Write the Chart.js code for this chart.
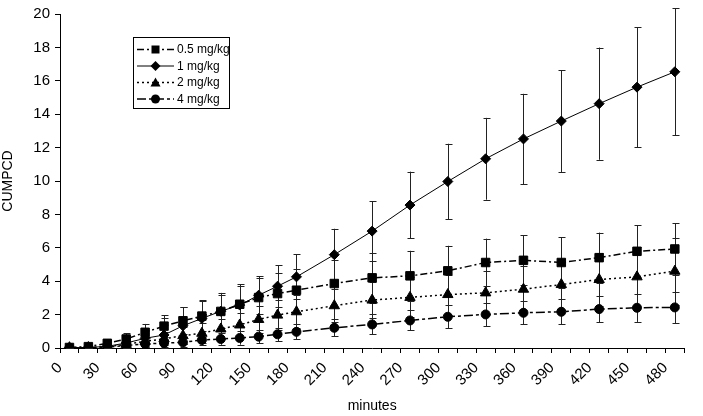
<!DOCTYPE html>
<html>
<head>
<meta charset="utf-8">
<script src="https://cdn.jsdelivr.net/npm/chart.js@4"></script>
<style>
  html, body { margin: 0; padding: 0; background: #fff; }
</style>
</head>
<body>
<canvas id="grafico" width="703" height="416"></canvas>
<script>
// Tempos (minutos) - pontos médios dos intervalos
const minutos = [7.5, 22.5, 37.5, 52.5, 67.5, 82.5, 97.5, 112.5, 127.5, 142.5, 157.5, 172.5, 187.5,
                 217.5, 247.5, 277.5, 307.5, 337.5, 367.5, 397.5, 427.5, 457.5, 487.5];

// CUMPCD por dose
const dose05 = [0.03, 0.08, 0.28, 0.54, 0.94, 1.31, 1.63, 1.91, 2.19, 2.62, 3.02, 3.26, 3.46,
                3.86, 4.20, 4.32, 4.62, 5.12, 5.25, 5.12, 5.41, 5.79, 5.93];
const dose1 = [0.02, 0.03, 0.10, 0.30, 0.58, 0.78, 1.33, 1.77, 2.20, 2.57, 3.16, 3.70, 4.26,
               5.59, 7.00, 8.56, 9.97, 11.33, 12.52, 13.59, 14.63, 15.62, 16.54];
const dose2 = [0.02, 0.03, 0.08, 0.22, 0.40, 0.55, 0.74, 0.88, 1.14, 1.38, 1.71, 1.97, 2.17,
               2.53, 2.87, 3.03, 3.20, 3.30, 3.52, 3.80, 4.10, 4.26, 4.60];
const dose4 = [0.01, 0.02, 0.05, 0.16, 0.24, 0.30, 0.34, 0.48, 0.54, 0.60, 0.68, 0.82, 0.97,
               1.21, 1.41, 1.65, 1.87, 2.01, 2.11, 2.17, 2.33, 2.41, 2.43];

// Desvios (barras de erro)
const erro05 = [0.05, 0.08, 0.20, 0.35, 0.50, 0.65, 0.80, 0.90, 1.00, 1.10, 1.20, 1.25, 1.30,
                1.40, 1.50, 1.50, 1.50, 1.43, 1.50, 1.50, 1.50, 1.55, 1.55];
const erro1 = [0.03, 0.05, 0.10, 0.30, 0.50, 1.00, 1.10, 1.10, 1.10, 1.25, 1.14, 1.26, 1.35,
               1.55, 1.80, 2.00, 2.26, 2.45, 2.70, 3.05, 3.36, 3.60, 3.80];
const erro2 = [0.03, 0.05, 0.10, 0.20, 0.30, 0.40, 0.50, 0.60, 0.60, 0.70, 0.80, 0.90, 1.00,
               1.00, 1.10, 1.20, 1.20, 1.30, 1.40, 1.50, 1.60, 1.80, 2.00];
const erro4 = [0.02, 0.03, 0.05, 0.10, 0.20, 0.25, 0.30, 0.30, 0.35, 0.40, 0.40, 0.40, 0.45,
               0.50, 0.60, 0.60, 0.70, 0.70, 0.70, 0.75, 0.80, 0.85, 0.95];

const rotulos = ['0.5 mg/kg', '1 mg/kg', '2 mg/kg', '4 mg/kg'];

Chart.defaults.font.family = "'Liberation Sans', Arial, sans-serif";
Chart.defaults.color = '#000';

function pares(valores) {
    return minutos.map((m, i) => ({ x: m, y: valores[i] }));
}

function serie(rotulo, valores, erros, estilo, raio, traco, largura) {
    return {
        label: rotulo,
        data: pares(valores),
        erros: erros,
        borderColor: '#000',
        backgroundColor: '#000',
        borderWidth: largura,
        borderDash: traco,
        pointStyle: estilo,
        pointRadius: raio,
        pointHoverRadius: raio,
        pointBackgroundColor: '#000',
        pointBorderColor: '#000',
        pointBorderWidth: 1,
        tension: 0,
        fill: false
    };
}

// Desenha as barras de erro
const barrasErro = {
    id: 'barrasErro',
    beforeDatasetsDraw(chart) {
        const ctx = chart.ctx;
        const sx = chart.scales.x, sy = chart.scales.y;
        ctx.save();
        ctx.strokeStyle = '#222';
        ctx.lineWidth = 1;
        chart.data.datasets.forEach(ds => {
            ds.data.forEach((p, i) => {
                const e = ds.erros[i];
                const px = Math.round(sx.getPixelForValue(p.x)) + 0.5;
                const topo = sy.getPixelForValue(p.y + e);
                const base = sy.getPixelForValue(Math.max(0, p.y - e));
                ctx.beginPath();
                ctx.moveTo(px, topo);
                ctx.lineTo(px, base);
                ctx.moveTo(px - 3, Math.round(topo) + 0.5);
                ctx.lineTo(px + 4, Math.round(topo) + 0.5);
                ctx.moveTo(px - 3, Math.round(base) + 0.5);
                ctx.lineTo(px + 4, Math.round(base) + 0.5);
                ctx.stroke();
            });
        });
        ctx.restore();
    }
};

function desenharMarcador(ctx, estilo, x, y) {
    ctx.beginPath();
    if (estilo === 'rect') {
        ctx.rect(x - 4, y - 4, 8, 8);
    } else if (estilo === 'rectRot') {
        ctx.moveTo(x, y - 5); ctx.lineTo(x + 5, y); ctx.lineTo(x, y + 5); ctx.lineTo(x - 5, y);
        ctx.closePath();
    } else if (estilo === 'triangle') {
        ctx.moveTo(x, y - 5); ctx.lineTo(x + 5, y + 4); ctx.lineTo(x - 5, y + 4);
        ctx.closePath();
    } else {
        ctx.arc(x, y, 4.5, 0, Math.PI * 2);
    }
    ctx.fill();
}

// Legenda dentro da área do gráfico
const legendaCaixa = {
    id: 'legendaCaixa',
    afterDraw(chart) {
        const ctx = chart.ctx;
        ctx.save();
        ctx.fillStyle = '#fff';
        ctx.fillRect(133, 37, 96, 71);
        ctx.strokeStyle = '#000';
        ctx.lineWidth = 1;
        ctx.strokeRect(133.5, 37.5, 96, 71);
        const linhasY = [49.5, 66, 82.5, 99];
        chart.data.datasets.forEach((ds, i) => {
            const y = linhasY[i];
            ctx.strokeStyle = '#000';
            ctx.lineWidth = ds.borderWidth;
            ctx.setLineDash(ds.borderDash);
            ctx.beginPath();
            ctx.moveTo(137, y);
            ctx.lineTo(174, y);
            ctx.stroke();
            ctx.setLineDash([]);
            ctx.fillStyle = '#000';
            desenharMarcador(ctx, ds.pointStyle, 155.5, y);
            ctx.font = "12px 'Liberation Sans', Arial, sans-serif";
            ctx.textBaseline = 'middle';
            ctx.textAlign = 'left';
            ctx.fillText(ds.label, 177, y + 0.5);
        });
        ctx.restore();
    }
};

new Chart(document.getElementById('grafico'), {
    type: 'line',
    data: {
        datasets: [
            serie(rotulos[0], dose05, erro05, 'rect', 6, [7, 3, 2, 3], 1.5),
            serie(rotulos[1], dose1, erro1, 'rectRot', 5, [], 1),
            serie(rotulos[2], dose2, erro2, 'triangle', 6, [2, 3], 1.5),
            serie(rotulos[3], dose4, erro4, 'circle', 4.5, [9, 3, 3, 3], 1.5)
        ]
    },
    options: {
        responsive: false,
        animation: false,
        layout: { padding: { top: 13, right: 8, left: 0, bottom: 0 } },
        plugins: {
            legend: { display: false },
            tooltip: { enabled: false }
        },
        scales: {
            x: {
                type: 'linear',
                min: 0,
                max: 495,
                afterFit: s => { s.height = 68; },
                afterBuildTicks: s => {
                    const t = [];
                    for (let v = 0; v <= 495; v += 15) t.push({ value: v });
                    s.ticks = t;
                },
                ticks: {
                    autoSkip: false,
                    maxRotation: 45,
                    minRotation: 45,
                    padding: 6,
                    font: { size: 15 },
                    callback: v => (v % 30 === 0 ? String(v) : '')
                },
                grid: { drawOnChartArea: false, drawTicks: true, tickLength: 5, color: '#000' },
                border: { color: '#000', width: 1 },
                title: { display: true, text: 'minutes', font: { size: 14 }, padding: { top: 0, bottom: 1 } }
            },
            y: {
                min: 0,
                max: 20,
                afterFit: s => { s.width = 60; },
                ticks: { stepSize: 2, padding: 5, font: { size: 15 } },
                grid: { drawOnChartArea: false, drawTicks: true, tickLength: 5, color: '#000' },
                border: { color: '#000', width: 1 },
                title: { display: true, text: 'CUMPCD', font: { size: 14 }, padding: { top: 0, bottom: 2 } }
            }
        }
    },
    plugins: [barrasErro, legendaCaixa]
});
</script>
</body>
</html>
